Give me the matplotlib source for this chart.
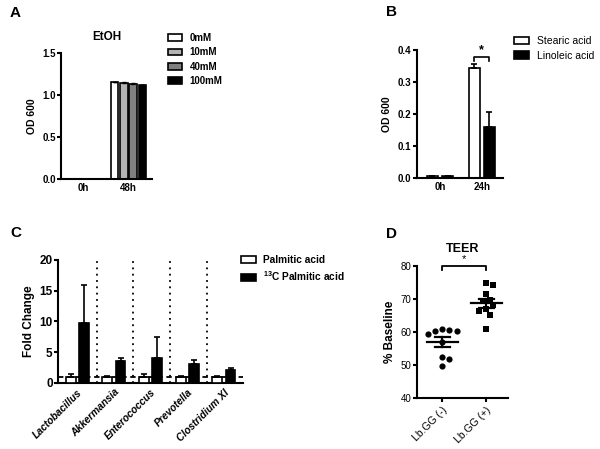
import numpy as np
import matplotlib
matplotlib.use('Agg')
import matplotlib.pyplot as plt

plt.rcParams['font.family'] = ['Liberation Sans', 'DejaVu Sans']
plt.rcParams['mathtext.fontset'] = 'custom'
plt.rcParams['mathtext.rm'] = 'Liberation Sans:bold'
plt.rcParams['mathtext.bf'] = 'Liberation Sans:bold'
plt.rcParams['axes.linewidth'] = 1.5

# Panel A: EtOH growth
a_times = ["0h", "48h"]
a_conc = ["0mM", "10mM", "40mM", "100mM"]
a_colors = ["white", "#b4b4b4", "#808080", "black"]
a_vals = [[0.005, 1.15], [0.005, 1.145], [0.005, 1.135], [0.005, 1.115]]
a_err = [[0.002, 0.01], [0.002, 0.01], [0.002, 0.01], [0.002, 0.01]]

# Panel B: fatty acids
b_times = ["0h", "24h"]
b_names = ["Stearic acid", "Linoleic acid"]
b_vals = [[0.005, 0.343], [0.005, 0.160]]
b_err = [[0.001, 0.012], [0.001, 0.045]]

# Panel C: fold change
c_taxa = ["Lactobacillus", "Akkermansia", "Enterococcus", "Prevotella", "Clostridium XI"]
c_names = ["Palmitic acid", r"$^{13}$C Palmitic acid"]
c_pal = [1.0, 1.0, 1.0, 1.0, 1.0]
c_pal_err = [0.4, 0.1, 0.4, 0.1, 0.1]
c_13c = [9.7, 3.5, 4.0, 3.1, 2.1]
c_13c_err = [6.2, 0.6, 3.4, 0.6, 0.35]

# Panel D: TEER
d_groups = ["Lb.GG (-)", "Lb.GG (+)"]
d_minus = [60.8, 60.3, 60.3, 60.5, 59.4, 57.0, 52.3, 51.7, 49.5]
d_plus = [74.7, 74.2, 71.4, 69.6, 69.2, 68.0, 66.9, 66.2, 65.2, 60.8]

fig = plt.figure(figsize=(6, 4.49), dpi=100)


def style(ax, xticks=False, ysize=7, xsize=7, bold=True):
    ax.spines['top'].set_visible(False)
    ax.spines['right'].set_visible(False)
    ax.tick_params(axis='y', width=1.5, length=3, labelsize=ysize, pad=1)
    ax.tick_params(axis='x', width=1.5, length=3 if xticks else 0, labelsize=xsize, pad=3)
    for lab in ax.get_yticklabels() + ax.get_xticklabels():
        lab.set_fontweight('bold' if bold else 'normal')


def legend(ax, x, y, size, weight):
    ax.legend(loc='upper left', bbox_to_anchor=(x / 600, 1 - y / 449), bbox_transform=fig.transFigure,
              frameon=False, handlelength=1.45, handleheight=0.7, handletextpad=0.75, labelspacing=0.45,
              prop=dict(size=size, weight=weight), borderaxespad=0, borderpad=0)


# ---- A ----
axA = fig.add_axes([0.102, 0.601, 0.152, 0.281])
x = np.arange(len(a_times))
step = 0.205
for i in range(len(a_conc)):
    axA.bar(x + (i - 1.5) * step, a_vals[i], width=0.17, color=a_colors[i],
            edgecolor='black', linewidth=1.2, yerr=[[0, 0], a_err[i]],
            error_kw=dict(capsize=1.5, elinewidth=1, capthick=1), label=a_conc[i])
axA.set_xlim(-0.49, 1.53)
axA.set_ylim(0, 1.5)
axA.set_yticks([0, 0.5, 1.0, 1.5])
axA.set_yticklabels(["0.0", "0.5", "1.0", "1.5"])
axA.set_xticks(x)
axA.set_xticklabels(a_times)
axA.set_ylabel("OD 600", fontsize=7.5, fontweight='bold', labelpad=4)
axA.set_title("EtOH", fontsize=8.5, fontweight='bold', pad=9)
style(axA)
legend(axA, 168, 33, 7, 'bold')

# ---- B ----
axB = fig.add_axes([0.695, 0.604, 0.143, 0.285])
x = np.arange(len(b_times))
b_colors = ["white", "black"]
for i in range(len(b_names)):
    axB.bar(x + (i - 0.5) * 0.36, b_vals[i], width=0.26, color=b_colors[i],
            edgecolor='black', linewidth=1.2, yerr=[[0, 0], b_err[i]],
            error_kw=dict(capsize=2, elinewidth=1.2, capthick=1.2), label=b_names[i])
axB.set_xlim(-0.55, 1.5)
axB.set_ylim(0, 0.4)
axB.set_yticks([0, 0.1, 0.2, 0.3, 0.4])
axB.set_yticklabels(["0.0", "0.1", "0.2", "0.3", "0.4"])
axB.set_xticks(x)
axB.set_xticklabels(b_times)
axB.set_ylabel("OD 600", fontsize=7.5, fontweight='bold', labelpad=4)
style(axB)
bx0, bx1 = 1 - 0.18, 1 + 0.18
axB.plot([bx0, bx0, bx1, bx1], [0.366, 0.378, 0.378, 0.366], color='black', lw=1.2, clip_on=False)
axB.text(1, 0.381, "*", ha='center', va='bottom', fontsize=9, fontweight='bold')
legend(axB, 514, 36, 7.5, 'normal')

# ---- C ----
axC = fig.add_axes([0.097, 0.147, 0.308, 0.274])
x = np.arange(len(c_taxa))
axC.bar(x - 0.18, c_pal, width=0.27, color='white', edgecolor='black', linewidth=1.2,
        yerr=[np.zeros(len(c_taxa)), c_pal_err], error_kw=dict(capsize=2, elinewidth=1.2, capthick=1.2),
        label=c_names[0], zorder=3)
axC.bar(x + 0.18, c_13c, width=0.27, color='black', edgecolor='black', linewidth=1.2,
        yerr=[np.zeros(len(c_taxa)), c_13c_err], error_kw=dict(capsize=2, elinewidth=1.2, capthick=1.2),
        label=c_names[1], zorder=3)
for xv in x[:-1] + 0.53:
    axC.axvline(xv, color='black', ls=(0, (1, 2.5)), lw=1.3)
axC.axhline(1, color='black', ls=(0, (3, 2)), lw=1.3, zorder=4)
axC.set_xlim(-0.52, 4.52)
axC.set_ylim(0, 20)
axC.set_yticks([0, 5, 10, 15, 20])
axC.set_xticks(x)
axC.set_xticklabels(c_taxa, rotation=45, ha='right', rotation_mode='anchor', style='italic')
axC.set_ylabel("Fold Change", fontsize=8.5, fontweight='bold', labelpad=3)
style(axC, ysize=8.5, xsize=7.3)
legend(axC, 241, 255, 7.3, 'bold')

# ---- D ----
axD = fig.add_axes([0.695, 0.114, 0.152, 0.294])
px_per_x = 44.0
px_per_y = 132.0 / 40.0


def swarm(vals, diam=6.0):
    placed = []
    offs = np.zeros(len(vals))
    order = np.argsort(vals)[::-1]
    for idx in order:
        v = vals[idx]
        for k in [0, 1, -1, 2, -2, 3, -3, 4, -4]:
            ox = k * diam * 0.6
            ok = all(np.hypot(ox - px, (v - py) * px_per_y) >= diam for px, py in placed)
            if ok:
                break
        placed.append((ox, v))
        offs[idx] = ox / px_per_x
    return offs


for gi, (vals, mk, sz) in enumerate([(d_minus, 'o', 20), (d_plus, 's', 17)]):
    vals = np.array(vals)
    axD.scatter(gi + swarm(vals), vals, marker=mk, s=sz, color='black', linewidths=0,
                zorder=3, clip_on=False)
    m = vals.mean()
    sem = vals.std(ddof=1) / np.sqrt(len(vals))
    axD.plot([gi - 0.35, gi + 0.35], [m, m], color='black', lw=1.6, zorder=4)
    axD.plot([gi, gi], [m - sem, m + sem], color='black', lw=1.6, zorder=4)
    for yv in (m - sem, m + sem):
        axD.plot([gi - 0.17, gi + 0.17], [yv, yv], color='black', lw=1.6, zorder=4)
axD.set_xlim(-0.57, 1.5)
axD.set_ylim(40, 80)
axD.set_yticks([40, 50, 60, 70, 80])
axD.set_xticks([0, 1])
axD.set_xticklabels(d_groups, rotation=45, ha='right', rotation_mode='anchor')
axD.set_ylabel("% Baseline", fontsize=8.5, fontweight='bold', labelpad=3)
axD.set_title("TEER", fontsize=9, fontweight='bold', pad=10)
style(axD, xticks=True, ysize=7, xsize=7.5, bold=False)
axD.tick_params(axis='x', pad=2)
axD.plot([0, 0, 1, 1], [78.8, 80, 80, 78.8], color='black', lw=1.3, clip_on=False)
axD.text(0.5, 80.6, "*", ha='center', va='bottom', fontsize=8)

# panel letters
for letter, px, py in [("A", 10, 13), ("B", 386, 12), ("C", 10, 233), ("D", 386, 234)]:
    fig.text(px / 600, 1 - py / 449, letter, fontsize=11, fontweight='bold', ha='left', va='center')

fig.savefig("out.png", dpi=100)
